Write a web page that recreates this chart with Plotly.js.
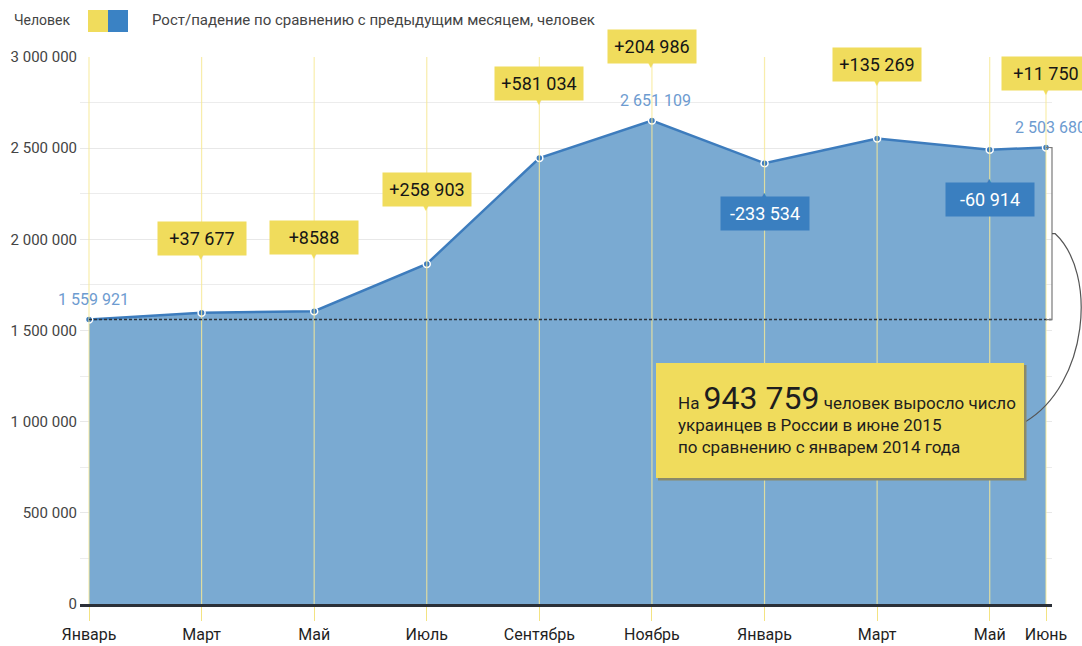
<!DOCTYPE html>
<html>
<head>
<meta charset="utf-8">
<script src="https://cdn.plot.ly/plotly-3.0.1.min.js"></script>
<style>
html,body{margin:0;padding:0;background:#fff;}
#chart{width:1082px;height:646px;}
</style>
</head>
<body>
<div id="chart"></div>
<script>
// ---- data ----
const months = ['Январь','Март','Май','Июль','Сентябрь','Ноябрь','Январь','Март','Май','Июнь'];
const monthIndex = [0, 2, 4, 6, 8, 10, 12, 14, 16, 17];
const population = [1559921, 1597598, 1606186, 1865089, 2446123, 2651109, 2417575, 2552844, 2491930, 2503680];
const change = [null, 37677, 8588, 258903, 581034, 204986, -233534, 135269, -60914, 11750];
const yTickVals = [0, 500000, 1000000, 1500000, 2000000, 2500000, 3000000];
const yTickText = ['0', '500 000', '1 000 000', '1 500 000', '2 000 000', '2 500 000', '3 000 000'];
const legendUnit = 'Человек';
const legendText = 'Рост/падение по сравнению с предыдущим месяцем, человек';
const noteBig = '943 759';
const noteLine1a = 'На';
const noteLine1b = 'человек выросло число';
const noteLines23 = 'украинцев в России в июне 2015<br>по сравнению с январем 2014 года';

// ---- styles ----
const FONT = 'Roboto, "Noto Sans", sans-serif';
const YELLOW = '#f0dc5c';
const BLUE_DARK = '#3a7fc0';
const BLUE_FILL = '#7aaad2';
const L = 80, R = 30, T = 57, B = 42, W = 1082, H = 646;
const PW = W - L - R, PH = H - T - B;
const yMax = 3000000;
const px = x => (x - L) / PW;
const py = y => (H - B - y) / PH;

function fmt(n, sign) {
  const a = Math.abs(n);
  let s = String(a);
  if (s.length > 4) s = s.replace(/\B(?=(\d{3})+(?!\d))/g, ' ');
  if (sign) return (n < 0 ? '-' : '+') + s;
  return s;
}

const traces = [{
  type: 'scatter',
  mode: 'lines+markers',
  x: monthIndex,
  y: population,
  fill: 'tozeroy',
  fillcolor: BLUE_FILL,
  line: {color: '#3d7cbd', width: 2.5},
  marker: {size: 7, color: '#3d7cbd', line: {color: '#ffffff', width: 1.5}},
  hoverinfo: 'skip',
  cliponaxis: false
}];

const shapes = [];
// vertical category lines
monthIndex.forEach(m => {
  shapes.push({type: 'line', xref: 'x', yref: 'y', x0: m, x1: m, y0: 0, y1: yMax,
    line: {color: 'rgba(246,232,150,0.8)', width: 1.2}, layer: 'above'});
});
// dashed baseline at first value
shapes.push({type: 'line', xref: 'x', yref: 'y', x0: monthIndex[0], x1: monthIndex[monthIndex.length-1] + 0.1,
  y0: population[0], y1: population[0], line: {color: '#2e343c', width: 1.4, dash: '3px,2px'}, layer: 'above'});
// bracket
const yTop = population[population.length-1] / yMax, yBot = population[0] / yMax, yMid = (yTop + yBot) / 2;
const bx = px(1052), bh = px(1046);
shapes.push({type: 'path', xref: 'paper', yref: 'paper',
  path: `M${bh},${yTop} L${bx},${yTop} L${bx},${yBot} L${bh},${yBot}`,
  line: {color: '#7a7a7a', width: 1.2}});
shapes.push({type: 'path', xref: 'paper', yref: 'paper',
  path: `M${bx},${yMid} L${px(1055)},${yMid} C${px(1098)},${yMid - 40/PH} ${px(1088)},${py(385)} ${px(1025)},${py(422)}`,
  line: {color: '#555', width: 1.2}});
// note box shadow + box
shapes.push({type: 'rect', xref: 'paper', yref: 'paper', x0: px(658), x1: px(1026.5), y0: py(480.5), y1: py(365),
  fillcolor: '#8a8a6a', line: {width: 0}, layer: 'above'});
shapes.push({type: 'rect', xref: 'paper', yref: 'paper', x0: px(656), x1: px(1024), y0: py(478), y1: py(363),
  fillcolor: YELLOW, line: {width: 0}, layer: 'above'});
// legend squares
shapes.push({type: 'rect', xref: 'paper', yref: 'paper', x0: px(88), x1: px(108), y0: py(32), y1: py(10),
  fillcolor: YELLOW, line: {width: 0}});
shapes.push({type: 'rect', xref: 'paper', yref: 'paper', x0: px(108), x1: px(128), y0: py(32), y1: py(10),
  fillcolor: '#3a82c4', line: {width: 0}});

const annotations = [];
// change callouts
change.forEach((c, i) => {
  if (c === null) return;
  const up = c >= 0;
  annotations.push({
    xref: 'x', yref: 'y', x: monthIndex[i], y: population[i],
    text: fmt(c, true), showarrow: false,
    yshift: up ? 74 : -50,
    width: 86, height: 31, bgcolor: up ? YELLOW : BLUE_DARK,
    font: {family: FONT, size: 18, color: up ? '#161616' : '#ffffff'},
    xanchor: 'center', yanchor: 'middle'
  });
  annotations.push({
    xref: 'x', yref: 'y', x: monthIndex[i], y: population[i],
    text: up ? '▼' : '▲', showarrow: false,
    yshift: up ? 56 : -32,
    font: {family: 'DejaVu Sans', size: 8, color: up ? YELLOW : BLUE_DARK},
    xanchor: 'center', yanchor: 'middle'
  });
});
// value labels: first, max, last
const maxIdx = population.indexOf(Math.max(...population));
[0, maxIdx, population.length - 1].forEach(i => {
  annotations.push({
    xref: 'x', yref: 'y', x: monthIndex[i], y: population[i],
    text: fmt(population[i], false), showarrow: false, yshift: 20, xshift: 4,
    font: {family: FONT, size: 16, color: '#6d9bd0'},
    xanchor: 'center', yanchor: 'middle'
  });
});
// legend texts
annotations.push({xref: 'paper', yref: 'paper', x: px(12), y: py(20), xanchor: 'left', yanchor: 'middle',
  text: legendUnit, showarrow: false, font: {family: FONT, size: 14, color: '#444'}});
annotations.push({xref: 'paper', yref: 'paper', x: px(150), y: py(20), xanchor: 'left', yanchor: 'middle',
  text: legendText, showarrow: false, font: {family: FONT, size: 15, color: '#444'}});
// note text
annotations.push({xref: 'paper', yref: 'paper', x: px(676), y: py(398), xanchor: 'left', yanchor: 'middle',
  text: noteLine1a + ' <span style="font-size:32px">' + noteBig + '</span> ' + noteLine1b, showarrow: false,
  font: {family: FONT, size: 17, color: '#1e1e1e'}});
annotations.push({xref: 'paper', yref: 'paper', x: px(676), y: py(436), xanchor: 'left', yanchor: 'middle', align: 'left',
  text: noteLines23, showarrow: false,
  font: {family: FONT, size: 17, color: '#1e1e1e'}});

const layout = {
  width: W, height: H,
  margin: {l: L, r: R, t: T, b: B, pad: 0},
  paper_bgcolor: '#ffffff', plot_bgcolor: '#ffffff',
  showlegend: false,
  xaxis: {
    range: [-9 / 56.3, 17 + 6 / 56.3],
    tickvals: monthIndex, ticktext: months,
    showgrid: false, zeroline: false,
    showline: true, linecolor: '#2b3038', linewidth: 3,
    ticks: 'outside', ticklen: 14, tickcolor: 'rgba(240,220,100,0.8)', tickwidth: 1,
    tickfont: {family: FONT, size: 16, color: '#1f1f1f'},
    fixedrange: true
  },
  yaxis: {
    range: [0, yMax],
    tickvals: yTickVals, ticktext: yTickText,
    showgrid: true, gridcolor: '#e8e8e8', gridwidth: 1,
    minor: {dtick: 250000, showgrid: true, gridcolor: '#ececec', gridwidth: 1},
    zeroline: false, showline: false,
    ticks: '', ticklabelstandoff: 2,
    tickfont: {family: FONT, size: 15, color: '#444'},
    fixedrange: true
  },
  shapes: shapes,
  annotations: annotations
};

Plotly.newPlot('chart', traces, layout, {displayModeBar: false, staticPlot: true});
</script>
</body>
</html>
